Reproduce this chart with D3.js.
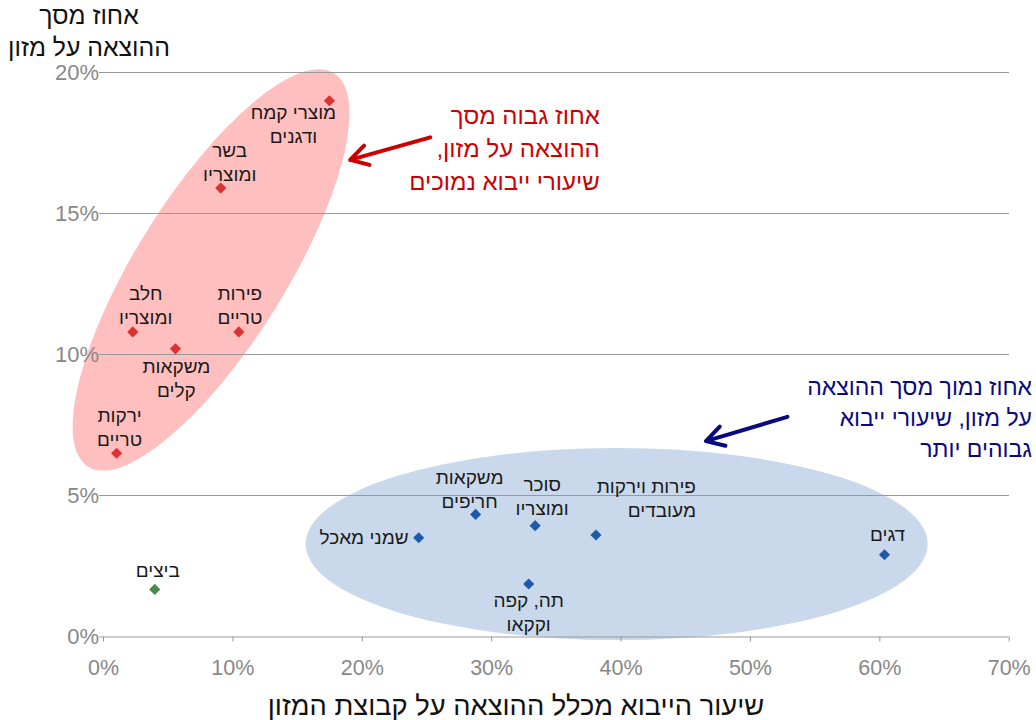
<!DOCTYPE html>
<html><head><meta charset="utf-8">
<script src="https://cdn.jsdelivr.net/npm/d3@7"></script>
<style>
html,body{margin:0;padding:0;background:#fff;}
svg{display:block;font-family:"Liberation Sans",Arial,sans-serif;}
</style></head>
<body>
<svg id="chart" width="1036" height="720"></svg>
<script>
// ---- data ----
const categories = ["מוצרי קמח ודגנים","בשר ומוצריו","פירות טריים","חלב ומוצריו","משקאות קלים","ירקות טריים",
  "שמני מאכל","משקאות חריפים","סוכר ומוצריו","תה, קפה וקקאו","פירות וירקות מעובדים","דגים","ביצים"];
const importShare = [0.175,0.091,0.105,0.023,0.056,0.0105,0.244,0.288,0.334,0.329,0.381,0.604,0.040];
const foodShare   = [0.190,0.159,0.108,0.108,0.102,0.065,0.035,0.0433,0.0393,0.0186,0.036,0.029,0.0167];
const groups      = ["high","high","high","high","high","high","low","low","low","low","low","low","other"];
const xTicks = [0,0.1,0.2,0.3,0.4,0.5,0.6,0.7];
const yTicks = [0,0.05,0.1,0.15,0.2];
const xTitle = "שיעור הייבוא מכלל ההוצאה על קבוצת המזון";
const yTitle = ["אחוז מסך","ההוצאה על מזון"];
const noteHigh = ["אחוז גבוה מסך","ההוצאה על מזון,","שיעורי ייבוא נמוכים"];
const noteLow = ["אחוז נמוך מסך ההוצאה","על מזון, שיעורי ייבוא","גבוהים יותר"];

// ---- layout / style ----
const W = 1036, H = 720;
const m = {left:103, right:27.3, top:72.5, bottom:83.5};
const colors = {high:"#dc3232", low:"#1f5aa8", other:"#4a8a4a"};
const labelLayout = {
  "מוצרי קמח ודגנים":{lines:["מוצרי קמח","ודגנים"],dx:-36,dy:12,anchor:"middle"},
  "בשר ומוצריו":{lines:["בשר","ומוצריו"],dx:9,dy:-38,anchor:"middle"},
  "פירות טריים":{lines:["פירות","טריים"],dx:1,dy:-38,anchor:"middle"},
  "חלב ומוצריו":{lines:["חלב","ומוצריו"],dx:13,dy:-38,anchor:"middle"},
  "משקאות קלים":{lines:["משקאות","קלים"],dx:1,dy:18,anchor:"middle"},
  "ירקות טריים":{lines:["ירקות","טריים"],dx:3,dy:-38,anchor:"middle"},
  "שמני מאכל":{lines:["שמני מאכל"],dx:-10,dy:0,anchor:"right"},
  "משקאות חריפים":{lines:["משקאות","חריפים"],dx:-6,dy:-37,anchor:"middle"},
  "סוכר ומוצריו":{lines:["סוכר","ומוצריו"],dx:7,dy:-41,anchor:"middle"},
  "תה, קפה וקקאו":{lines:["תה, קפה","וקקאו"],dx:0,dy:16,anchor:"middle"},
  "פירות וירקות מעובדים":{lines:["פירות וירקות","מעובדים"],dx:100,dy:-48,anchor:"right"},
  "דגים":{lines:["דגים"],dx:3,dy:-20,anchor:"middle"},
  "ביצים":{lines:["ביצים"],dx:3,dy:-19,anchor:"middle"}
};

const svg = d3.select("#chart");
const x = d3.scaleLinear().domain([0,0.7]).range([m.left, W-m.right]);
const y = d3.scaleLinear().domain([0,0.2]).range([H-m.bottom, m.top]);

// ellipses (behind)
svg.append("ellipse")
  .attr("cx",0).attr("cy",0).attr("rx",232).attr("ry",75)
  .attr("transform",`translate(${x(0.0835)},${y(0.130)}) rotate(-58)`)
  .attr("fill","#ffbfbf");
svg.append("ellipse")
  .attr("cx",x(0.397)).attr("cy",y(0.0328)).attr("rx",311).attr("ry",96)
  .attr("fill","#c9d8eb");

// gridlines
svg.append("g").selectAll("line").data(yTicks.filter(d=>d>0)).join("line")
  .attr("x1",m.left-4).attr("x2",W-m.right)
  .attr("y1",d=>y(d)).attr("y2",d=>y(d))
  .attr("stroke","#999").attr("stroke-width",1).attr("shape-rendering","crispEdges");

// x axis
const xAxis = svg.append("g").attr("transform",`translate(0,${y(0)})`)
  .call(d3.axisBottom(x).tickValues(xTicks).tickFormat(d3.format(".0%")).tickSize(5).tickSizeOuter(0).tickPadding(18));
xAxis.select(".domain").attr("stroke","#999").attr("d",`M${m.left-4},0.5H${W-m.right}`);
xAxis.selectAll(".tick line").attr("stroke","#999");
xAxis.selectAll("text").attr("fill","#888").attr("font-size",21.5).attr("font-family","Liberation Sans, Arial, sans-serif");

// y tick labels
svg.append("g").selectAll("text").data(yTicks).join("text")
  .attr("x",m.left-4).attr("y",d=>y(d)).attr("dy","0.36em")
  .attr("text-anchor","end").attr("fill","#888").attr("font-size",22)
  .text(d3.format(".0%"));

// axis titles
svg.append("g").selectAll("text").data(yTitle).join("text")
  .attr("x",89).attr("y",(d,i)=>15+i*32).attr("dominant-baseline","central")
  .attr("text-anchor","middle").attr("direction","rtl").attr("font-size",24.8).attr("fill","#111")
  .text(d=>d);
svg.append("text").attr("x",516).attr("y",705).attr("dominant-baseline","central")
  .attr("text-anchor","middle").attr("direction","rtl").attr("font-size",27.3).attr("fill","#111").text(xTitle);

// points
const pts = categories.map((c,i)=>({name:c,xv:importShare[i],yv:foodShare[i],g:groups[i]}));
const sym = d3.symbol().type(d3.symbolSquare).size(62);
svg.append("g").selectAll("path").data(pts).join("path")
  .attr("d",sym)
  .attr("transform",d=>`translate(${x(d.xv)},${y(d.yv)}) rotate(45)`)
  .attr("fill",d=>colors[d.g]);

// labels
const lg = svg.append("g");
pts.forEach(d=>{
  const L = labelLayout[d.name];
  const t = lg.append("text").attr("font-size",19).attr("fill","#1a1a1a").attr("direction","rtl")
    .attr("text-anchor", L.anchor==="right" ? "start" : "middle");
  L.lines.forEach((ln,k)=>{
    t.append("tspan").attr("x",x(d.xv)+L.dx).attr("y",y(d.yv)+L.dy+k*24)
      .attr("dominant-baseline","central").text(ln);
  });
});

// annotations
function arrow(x0,y0,x1,y1,color){
  const ang = Math.atan2(y0-y1,x0-x1), len=20, spread=Math.PI/6;
  const a1=[x1+len*Math.cos(ang+spread), y1+len*Math.sin(ang+spread)];
  const a2=[x1+len*Math.cos(ang-spread), y1+len*Math.sin(ang-spread)];
  svg.append("path")
    .attr("d",`M${x0},${y0}L${x1},${y1}M${a1[0]},${a1[1]}L${x1},${y1}L${a2[0]},${a2[1]}`)
    .attr("fill","none").attr("stroke",color).attr("stroke-width",4)
    .attr("stroke-linecap","round").attr("stroke-linejoin","round");
}
arrow(x(0.253),y(0.177),x(0.191),y(0.169),"#cc0000");
arrow(x(0.529),y(0.0779),x(0.466),y(0.0693),"#0a0a80");

svg.append("g").selectAll("text").data(noteHigh).join("text")
  .attr("x",x(0.384)).attr("y",(d,i)=>115+i*33).attr("dominant-baseline","central")
  .attr("direction","rtl").attr("text-anchor","start").attr("font-size",24).attr("fill","#cc0000")
  .text(d=>d);
svg.append("g").selectAll("text").data(noteLow).join("text")
  .attr("x",1032).attr("y",(d,i)=>387+i*31).attr("dominant-baseline","central")
  .attr("direction","rtl").attr("text-anchor","start").attr("font-size",23).attr("fill","#0a0a80")
  .text(d=>d);
</script>
</body></html>
